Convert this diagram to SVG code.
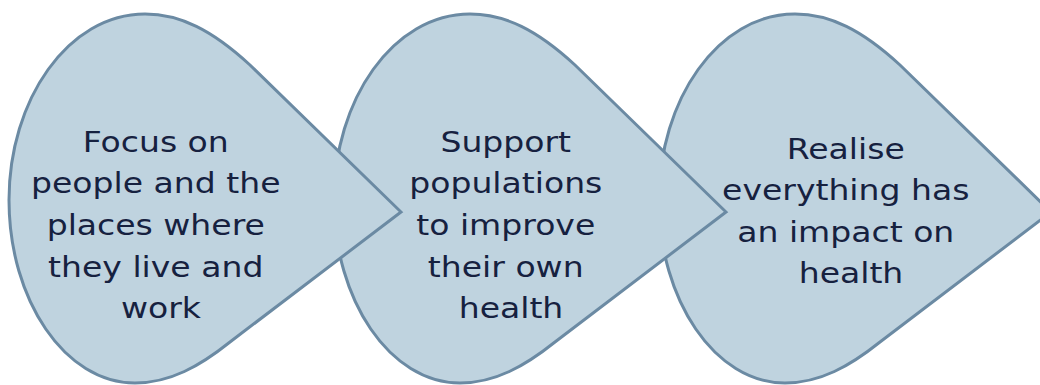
<svg xmlns="http://www.w3.org/2000/svg" width="1040" height="385" viewBox="0 0 1040 385">
  <defs>
    <!-- teardrop pointing right, tip at (401,212) -->
    <path id="drop" d="M 401,212 L 230,342 C 200,366 170,383 135,383 C 65,383 9,300 9,200 C 9,100 68,14 145,14 C 180,14 212,30 250,65 Z"/>
  </defs>
  <style>
    .shape { fill: #bfd3df; stroke: #6b8aa3; stroke-width: 3; stroke-linejoin: miter; }
    .label { font-family: "DejaVu Sans", "Liberation Sans", sans-serif; font-size: 28.5px; fill: #16213f; text-anchor: middle; }
  </style>
  <rect width="1040" height="385" fill="#ffffff"/>
  <g id="connectors"/>
  <!-- drawn right-to-left so each tip overlaps the next shape -->
  <g id="node-3">
    <use href="#drop" class="shape" transform="translate(650,0)"/>
    <text class="label" transform="translate(851,0) scale(1.16,1)">
      <tspan x="0" y="159">Realise</tspan>
      <tspan x="0" y="200">everything has</tspan>
      <tspan x="0" y="242">an impact on</tspan>
      <tspan x="0" y="283">health</tspan>
    </text>
  </g>
  <g id="node-2">
    <use href="#drop" class="shape" transform="translate(325,0)"/>
    <text class="label" transform="translate(511,0) scale(1.16,1)">
      <tspan x="0" y="152">Support</tspan>
      <tspan x="0" y="193">populations</tspan>
      <tspan x="0" y="235">to improve</tspan>
      <tspan x="0" y="277">their own</tspan>
      <tspan x="0" y="318">health</tspan>
    </text>
  </g>
  <g id="node-1">
    <use href="#drop" class="shape"/>
    <text class="label" transform="translate(161,0) scale(1.16,1)">
      <tspan x="0" y="152">Focus on</tspan>
      <tspan x="0" y="193">people and the</tspan>
      <tspan x="0" y="235">places where</tspan>
      <tspan x="0" y="277">they live and</tspan>
      <tspan x="0" y="318">work</tspan>
    </text>
  </g>
</svg>
